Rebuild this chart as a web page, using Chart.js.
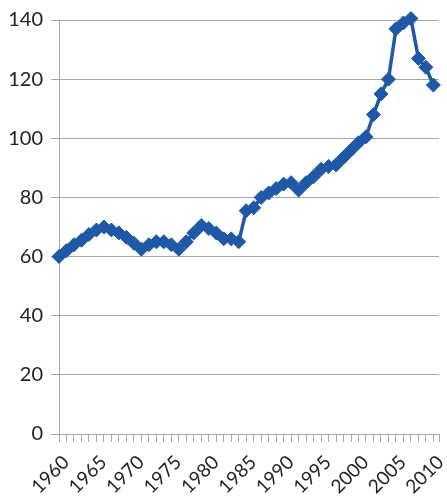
<!DOCTYPE html>
<html>
<head>
<meta charset="utf-8">
<script src="https://cdn.jsdelivr.net/npm/chart.js@4/dist/chart.umd.min.js"></script>
<style>
  html, body { margin: 0; padding: 0; background: #ffffff; overflow: hidden; }
  #wrap { width: 447px; height: 500px; position: relative; }
</style>
</head>
<body>
<div id="wrap"><canvas id="c" width="447" height="500"></canvas></div>
<script>
// Years (x values)
const years = [
  1960, 1961, 1962, 1963, 1964, 1965, 1966, 1967, 1968, 1969,
  1970, 1971, 1972, 1973, 1974, 1975, 1976, 1977, 1978, 1979,
  1980, 1981, 1982, 1983, 1984, 1985, 1986, 1987, 1988, 1989,
  1990, 1991, 1992, 1993, 1994, 1995, 1996, 1997, 1998, 1999,
  2000, 2001, 2002, 2003, 2004, 2005, 2006, 2007, 2008, 2009,
  2010
];
// Series values
const values = [
  60, 62, 64, 65.5, 67.5, 69, 70, 69, 68, 66.5,
  64.5, 62.5, 64, 65, 65, 64, 62.5, 65, 68, 70.5,
  69.5, 68, 66, 66, 65, 75.5, 76.5, 80, 81.5, 83,
  84.5, 85, 82.5, 85, 87, 89.5, 90.5, 91, 93.5, 96,
  98.5, 100.5, 108, 115, 120, 137, 139, 140.5, 127, 124,
  118
];
// Axis tick labels
const xTickLabels = ['1960', '1965', '1970', '1975', '1980', '1985', '1990', '1995', '2000', '2005', '2010'];
const yTickValues = [0, 20, 40, 60, 80, 100, 120, 140];
const X_MAX = 2010.75;

const points = years.map((y, i) => ({ x: y, y: values[i] }));
const FONT = { family: 'Lato, "Open Sans", sans-serif', size: 20 };
const XFONT = { family: 'Lato, "Open Sans", sans-serif', size: 19 };
const GRID = '#a6a6a6';

new Chart(document.getElementById('c'), {
  type: 'line',
  data: {
    datasets: [{
      data: points,
      borderColor: '#1f58a6',
      backgroundColor: '#1f58a6',
      borderWidth: 3.5,
      pointStyle: 'rectRot',
      pointRadius: 7,
      pointBorderWidth: 1,
      pointBackgroundColor: '#1f58a6',
      pointBorderColor: '#1f58a6',
      tension: 0,
      clip: false
    }]
  },
  options: {
    responsive: false,
    animation: false,
    layout: { padding: { top: 20, left: 0, right: 0, bottom: 0 } },
    plugins: { legend: { display: false }, tooltip: { enabled: false } },
    scales: {
      x: {
        type: 'linear',
        min: 1960,
        max: X_MAX,
        afterBuildTicks: (s) => { s.ticks = years.map(v => ({ value: v })).concat([{ value: X_MAX }]); },
        grid: { display: true, drawOnChartArea: false, drawTicks: true, tickLength: 8, color: GRID, tickColor: GRID },
        border: { display: true, color: GRID, width: 1 },
        ticks: {
          autoSkip: false,
          maxRotation: 45,
          minRotation: 45,
          padding: 9,
          labelOffset: 7,
          color: '#222',
          font: XFONT,
          callback: (v) => {
            const s = String(v);
            return xTickLabels.includes(s) ? s : '';
          }
        },
        afterFit: (s) => { s.height = 66; s.paddingLeft = 0; s.paddingRight = 0; }
      },
      y: {
        min: 0,
        max: 140,
        afterBuildTicks: (s) => { s.ticks = yTickValues.map(v => ({ value: v })); },
        grid: { color: GRID, tickColor: GRID, tickLength: 8, drawTicks: true },
        border: { display: true, color: GRID, width: 1 },
        ticks: { color: '#222', font: FONT, padding: 8 },
        afterFit: (s) => { s.width = 59; s.paddingTop = 0; s.paddingBottom = 0; }
      }
    }
  }
});
</script>
</body>
</html>
